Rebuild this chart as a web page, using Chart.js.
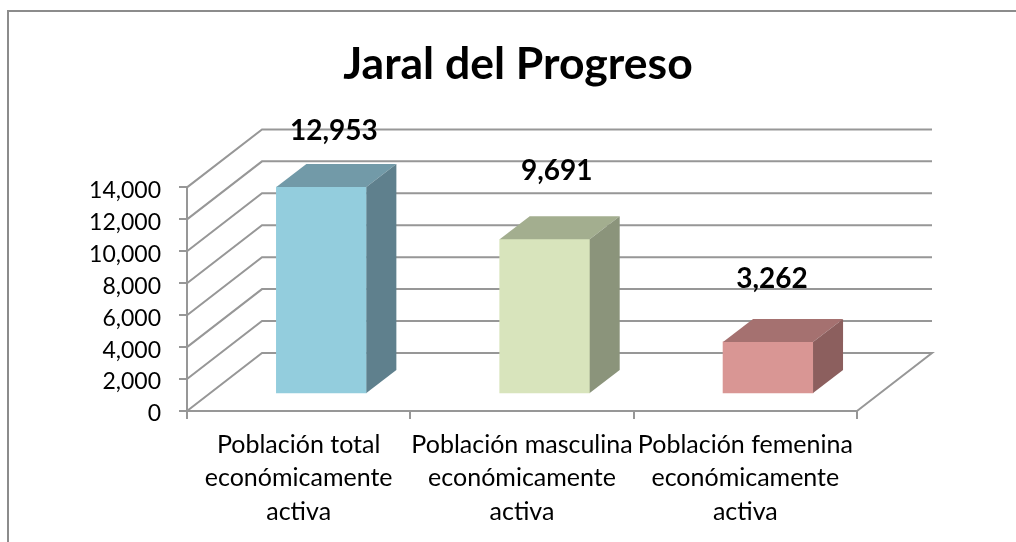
<!DOCTYPE html>
<html>
<head>
<meta charset="utf-8">
<style>
  html, body { margin: 0; padding: 0; background: #fff; overflow: hidden; }
  #wrap { position: relative; width: 1016px; height: 542px; }
  #frame { position: absolute; left: 7px; top: 10px; right: 0; bottom: 0; border-left: 2px solid #8c8c8c; border-top: 2px solid #8c8c8c; }
  canvas { position: absolute; left: 0; top: 0; }
</style>
<script src="https://cdn.jsdelivr.net/npm/chart.js@4"></script>
</head>
<body>
<div id="wrap">
  <div id="frame"></div>
  <canvas id="chart" width="1016" height="542"></canvas>
</div>
<script>
const chartTitle = 'Jaral del Progreso';
const categories = [
  ['Población total', 'económicamente', 'activa'],
  ['Población masculina', 'económicamente', 'activa'],
  ['Población femenina', 'económicamente', 'activa']
];
const values = [12953, 9691, 3262];
const frontColors = ['#93cddd', '#d8e4bc', '#d99694'];
const topColors = ['#729aa8', '#a3ae8f', '#a57170'];
const sideColors = ['#5f808d', '#8b947b', '#8c5f5e'];

const gridColor = '#979797';
const fontName = 'Lato, Carlito, Calibri, sans-serif';
// fake 3D depth of the box and of the walls
const wallDepth = { x: 75, y: -58 };
const barDepth = { x: 30, y: -23 };
const barShift = { x: 22.7, y: -17 };
const labelOffsets = [{ x: 12.5, y: -56 }, { x: 12, y: -68 }, { x: 4, y: -63 }];

const walls3d = {
  id: 'walls3d',
  afterLayout(chart) {
    // title sits a bit left of the plot centre
    chart.titleBlock.left -= 8;
  },
  beforeDatasetsDraw(chart) {
    const { ctx, chartArea } = chart;
    const yScale = chart.scales.y;
    ctx.save();
    ctx.strokeStyle = gridColor;
    ctx.lineWidth = 2;
    yScale.ticks.forEach(t => {
      const y = yScale.getPixelForValue(t.value);
      ctx.beginPath();
      ctx.moveTo(chartArea.left, y);
      ctx.lineTo(chartArea.left + wallDepth.x, y + wallDepth.y);
      ctx.lineTo(chartArea.right + wallDepth.x, y + wallDepth.y);
      if (t.value === 0) ctx.lineTo(chartArea.right, y);
      ctx.stroke();
    });
    ctx.restore();
    // bars are drawn by the library, only moved to the middle of the floor
    ctx.save();
    ctx.translate(barShift.x, barShift.y);
  },
  afterDatasetsDraw(chart) {
    const { ctx } = chart;
    const bars = chart.getDatasetMeta(0).data;
    bars.forEach((bar, i) => {
      const left = bar.x - bar.width / 2;
      const right = bar.x + bar.width / 2;
      ctx.fillStyle = topColors[i];
      ctx.beginPath();
      ctx.moveTo(left, bar.y);
      ctx.lineTo(left + barDepth.x, bar.y + barDepth.y);
      ctx.lineTo(right + barDepth.x, bar.y + barDepth.y);
      ctx.lineTo(right, bar.y);
      ctx.closePath();
      ctx.fill();
      ctx.fillStyle = sideColors[i];
      ctx.beginPath();
      ctx.moveTo(right, bar.y);
      ctx.lineTo(right + barDepth.x, bar.y + barDepth.y);
      ctx.lineTo(right + barDepth.x, bar.base + barDepth.y);
      ctx.lineTo(right, bar.base);
      ctx.closePath();
      ctx.fill();
    });
    ctx.restore();

    // value labels
    ctx.save();
    ctx.fillStyle = '#000';
    ctx.font = 'bold 28px ' + fontName;
    ctx.textAlign = 'center';
    ctx.textBaseline = 'middle';
    bars.forEach((bar, i) => {
      ctx.fillText(values[i].toLocaleString('en-US'),
        bar.x + barShift.x + labelOffsets[i].x,
        bar.y + barShift.y + labelOffsets[i].y);
    });
    ctx.restore();
  }
};

new Chart(document.getElementById('chart'), {
  type: 'bar',
  data: {
    labels: categories,
    datasets: [{
      data: values,
      backgroundColor: frontColors,
      barThickness: 90
    }]
  },
  options: {
    responsive: false,
    animation: false,
    layout: { padding: { left: 20, right: 159, top: 0, bottom: 0 } },
    plugins: {
      legend: { display: false },
      tooltip: { enabled: false },
      title: {
        display: true,
        text: chartTitle,
        color: '#000',
        fullSize: false,
        font: { family: fontName, size: 44.5, weight: 'bold', lineHeight: 1.2 },
        padding: { top: 38, bottom: 96 }
      }
    },
    scales: {
      x: {
        grid: { drawOnChartArea: false, color: gridColor, lineWidth: 2, tickLength: 8, offset: true },
        border: { display: true, color: gridColor, width: 2 },
        ticks: {
          color: '#000',
          font: { family: fontName, size: 25, lineHeight: 1.34 },
          maxRotation: 0,
          minRotation: 0,
          autoSkip: false,
          padding: 9
        },
        afterFit(s) { s.height = 131; }
      },
      y: {
        min: 0,
        max: 14000,
        grid: { drawOnChartArea: false, color: gridColor, lineWidth: 2, tickLength: 8 },
        border: { display: true, color: gridColor, width: 2 },
        ticks: {
          stepSize: 2000,
          color: '#000',
          font: { family: fontName, size: 23 },
          padding: 18,
          labelOffset: 3,
          callback: v => v.toLocaleString('en-US')
        },
        afterFit(s) { s.width = 167; }
      }
    }
  },
  plugins: [walls3d]
});
</script>
</body>
</html>
